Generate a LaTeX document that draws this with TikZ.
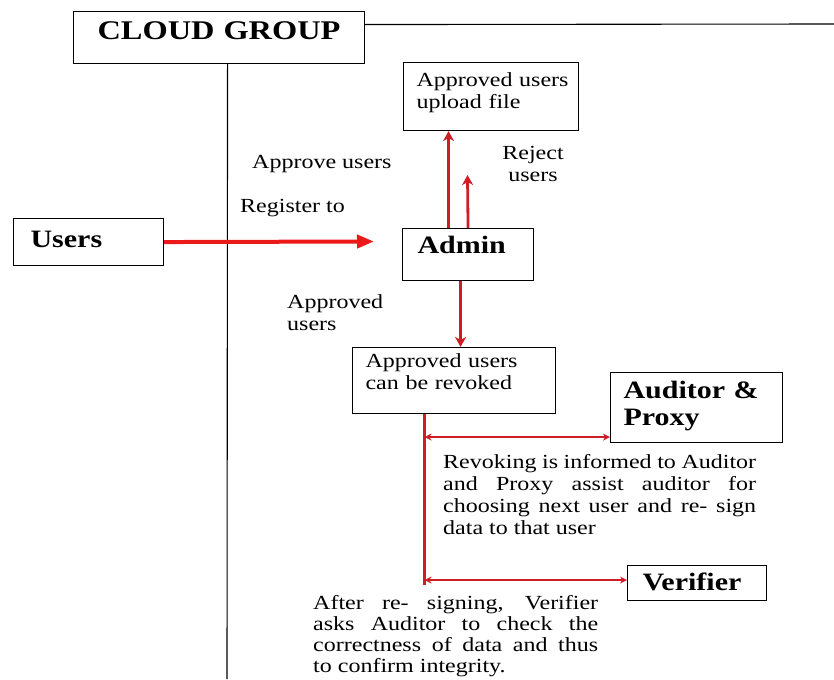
\documentclass[tikz,border=0pt]{standalone}
\usepackage{fontspec}
\setmainfont{Liberation Serif}[FakeStretch=1.2]
\usetikzlibrary{arrows.meta}
\definecolor{flowred}{RGB}{205,30,40}
\definecolor{regred}{RGB}{235,25,25}
\newcommand{\txtfont}{\fontsize{20}{22}\selectfont}
\newcommand{\headfont}{\fontsize{25}{27}\selectfont\bfseries}
\tikzset{
  box/.style={draw, line width=1.1pt, anchor=north west, inner ysep=0pt, align=left, font=\txtfont},
  lbl/.style={anchor=base west, inner sep=0pt, align=left, font=\txtfont},
  note/.style={lbl, align=justify},
  regarrow/.style={draw=regred, line width=4pt, -{Triangle[length=17pt,width=13pt]}},
  uparrow/.style={draw=flowred, line width=2.8pt, -{Stealth[length=10pt,width=11pt,inset=3pt]}},
  sidearrow/.style={draw=flowred, line width=1.8pt, {Stealth[length=7pt,width=7pt]}-{Stealth[length=7pt,width=7pt]}},
  trunk/.style={draw=flowred, line width=3pt}
}

\begin{document}
\begin{tikzpicture}[x=1pt,y=-1pt]
		%%%%% START %%%%%
		\useasboundingbox (0,0) rectangle (834,679);
		
		% boxes
		\node[box, font=\fontsize{27}{29}\selectfont\bfseries, text width=291pt, inner xsep=0pt, align=center, text height=28pt, text depth=24pt] (cloud) at (73,11) {CLOUD GROUP};
		\node[box, font=\headfont, text width=116pt, inner xsep=17pt, text height=29pt, text depth=18pt] (users) at (13,218) {Users};
		\node[box, text width=149pt, inner xsep=13pt, text height=24pt, text depth=44pt] (upload) at (403,62) {Approved~users\\upload file};
		\node[box, font=\headfont, text width=101pt, inner xsep=15pt, text height=25pt, text depth=27pt] (admin) at (402,228) {Admin};
		\node[box, text width=177pt, inner xsep=13pt, text height=20pt, text depth=46pt] (revoked) at (352,347) {Approved~users\\can be revoked};
		\node[box, font=\headfont, text width=146pt, inner xsep=13pt, text height=26pt, text depth=44pt] (auditor) at (610,372) {Auditor \&\\Proxy};
		\node[box, font=\headfont, text width=109pt, inner xsep=15pt, text height=25pt, text depth=10pt] (verifier) at (627,565) {Verifier};
		
		% labels
		\node[lbl] (approvelbl) at (252,168) {Approve users};
		\node[lbl, anchor=base, align=center, text width=70pt] (rejectlbl) at (533,160) {Reject\\users};
		\node[lbl] (registerlbl) at (240,212) {Register to};
		\node[lbl, text width=110pt] (approvedlbl) at (287,308) {Approved\\users};
		\node[note, text width=313pt] (revokenote) at (443,468) {Revoking is informed to Auditor\linebreak and Proxy assist auditor for\linebreak choosing next user and re- sign\linebreak data to that user};
		\node[note, font=\fontsize{20}{21}\selectfont, text width=285pt] (afternote) at (313,609) {After re- signing, Verifier\linebreak asks Auditor to check the\linebreak correctness of data and thus\linebreak to confirm integrity.};
		
		% black group lines
		\coordinate (cloudfoot) at (227,679);
		\coordinate (cloudtail) at (834,24);
		\draw[line width=1.1pt] ([xshift=8.5pt]cloud.south) -- (cloudfoot);
		\draw[line width=1.1pt] ([yshift=13pt]cloud.east) -- (cloudtail);
		
		% red flow
		\coordinate (regend) at (374,241.5);
		\coordinate (rejectend) at (467.5,175);
		\draw[regarrow] (users.east) -- (regend);
		\draw[uparrow] ([xshift=-19.5pt]admin.north) -- ([xshift=-19.5pt]admin.north |- upload.south);
		\draw[uparrow] (admin.north) -- (rejectend);
		\draw[uparrow] ([xshift=-7.5pt]admin.south) -- ([xshift=-7.5pt]admin.south |- revoked.north);
		
		\coordinate (tapaud) at ([xshift=-29.5pt]revoked.south |- auditor.south west);
		\coordinate (tapver) at ([xshift=-29.5pt]revoked.south |- verifier.west);
		\draw[trunk] ([xshift=-29.5pt]revoked.south) -- ([yshift=-1.5pt]tapver);
		\draw[sidearrow] ([yshift=6pt]tapaud) -- ([yshift=6pt]auditor.south west);
		\draw[sidearrow] ([yshift=3pt]tapver) -- ([yshift=3pt]verifier.west);
		
		%%%%% END %%%%%
\end{tikzpicture}
\end{document}
